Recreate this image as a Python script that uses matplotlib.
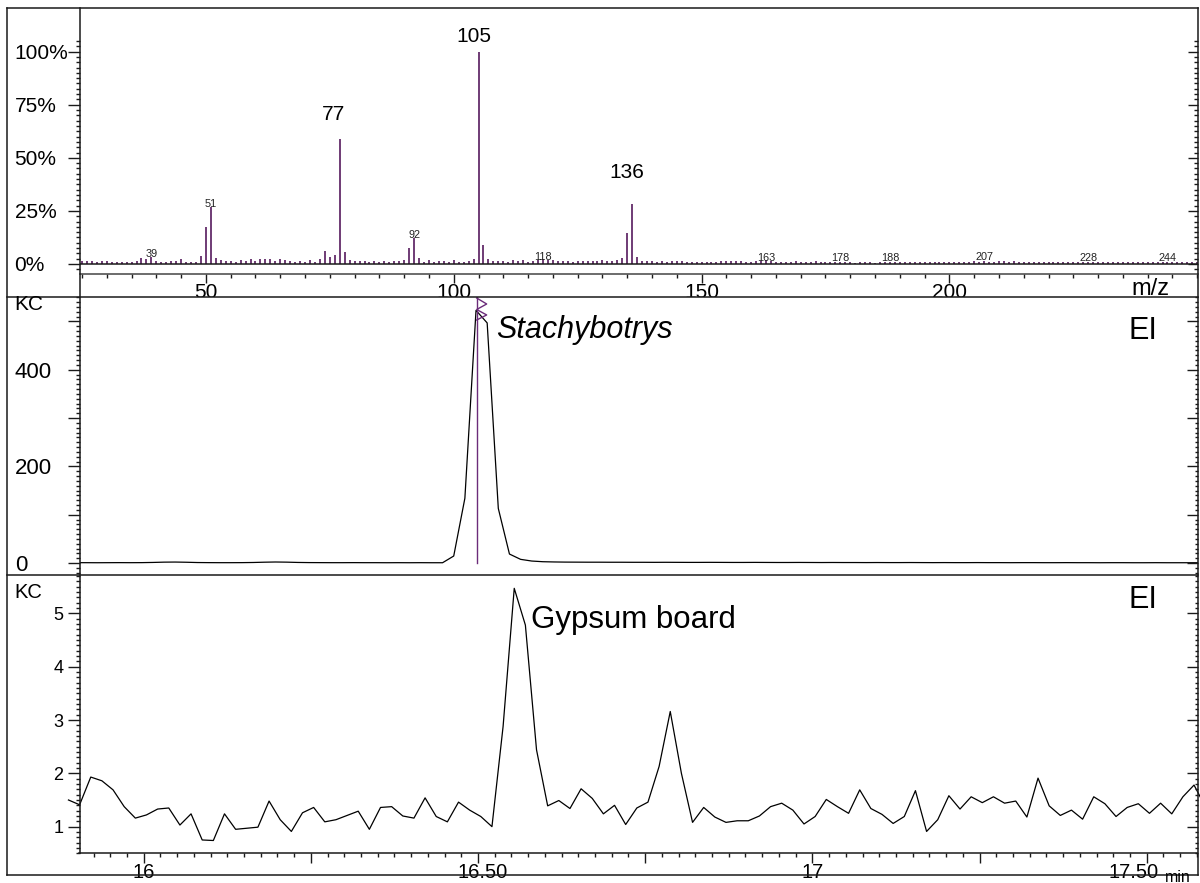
import matplotlib
matplotlib.use('Agg')
import matplotlib.pyplot as plt
import matplotlib.transforms as mtransforms
import numpy as np
from matplotlib.lines import Line2D
from matplotlib.ticker import MultipleLocator, FixedLocator, FixedFormatter

plt.rcParams['font.family'] = ['Liberation Sans', 'DejaVu Sans']

# ---- mass spectrum (relative abundance %, one value per m/z from 25 to 250)
mz_first = 25
abundance = [
    1.6, 1.6, 1.6, 1.1, 1.6, 1.6, 0.9, 0.9, 1.1, 0.9,   # 25-34
    0.9, 1.3, 2.7, 2.2, 3.3, 1.3, 0.9, 1.1, 1.4, 1.4,   # 35-44
    2.2, 1.1, 1.1, 0.9, 3.6, 17.4, 27.0, 2.8, 1.7, 1.4, # 45-54
    1.4, 0.9, 1.7, 1.3, 2.2, 1.3, 2.2, 2.2, 2.2, 1.6,   # 55-64
    2.4, 1.7, 1.4, 0.9, 1.4, 1.1, 1.7, 0.9, 2.4, 6.0,   # 65-74
    3.3, 4.1, 58.7, 5.5, 2.0, 1.3, 1.3, 1.4, 0.9, 1.3,  # 75-84
    1.1, 1.3, 1.1, 1.4, 1.3, 1.7, 7.5, 12.4, 2.7, 1.1,  # 85-94
    1.7, 0.9, 1.3, 1.4, 1.1, 1.7, 1.1, 1.1, 1.3, 2.4,   # 95-104
    100.0, 9.0, 2.4, 1.4, 1.3, 1.3, 0.9, 1.7, 1.4, 1.7, # 105-114
    1.1, 1.4, 1.7, 2.2, 1.7, 1.7, 1.4, 1.4, 1.4, 0.9,   # 115-124
    1.3, 1.6, 1.3, 1.3, 1.4, 1.7, 1.4, 1.6, 1.7, 2.8,   # 125-134
    14.6, 28.1, 3.3, 1.4, 1.3, 1.3, 0.9, 1.3, 1.1, 1.4, # 135-144
    1.3, 1.3, 1.1, 0.9, 1.1, 0.9, 1.1, 1.1, 1.1, 1.3,   # 145-154
    1.3, 1.3, 1.6, 1.3, 1.1, 0.9, 1.3, 1.6, 1.7, 1.3,   # 155-164
    1.1, 0.9, 1.1, 1.1, 1.3, 1.1, 1.1, 0.9, 1.3, 0.9,   # 165-174
    1.1, 0.9, 0.8, 1.1, 0.9, 0.8, 0.7, 0.8, 0.9, 0.8,   # 175-184
    0.7, 0.8, 0.9, 1.1, 0.9, 0.8, 0.9, 0.8, 0.9, 0.8,   # 185-194
    0.9, 0.8, 0.9, 0.8, 0.9, 0.8, 0.9, 0.8, 0.9, 0.8,   # 195-204
    1.3, 0.9, 1.2, 1.1, 1.0, 1.2, 1.4, 1.1, 1.3, 1.0,   # 205-214
    0.9, 0.8, 0.9, 0.8, 0.9, 0.8, 0.9, 0.8, 0.9, 0.8,   # 215-224
    0.9, 0.8, 1.0, 1.1, 0.9, 0.8, 0.9, 0.8, 0.9, 0.8,   # 225-234
    0.9, 0.8, 0.9, 1.0, 0.9, 1.0, 0.8, 0.9, 0.8, 1.0,   # 235-244
    0.9, 0.8, 0.9, 0.8, 0.9, 0.8,                       # 245-250
]
mz = np.arange(mz_first, mz_first + len(abundance))

big_labels = ['105', '77', '136']
big_label_pos = [(104.0, 107.0), (75.7, 70.6), (134.9, 43.3)]
small_labels = ['39', '51', '92', '118', '163', '178', '188', '207', '228', '244']
small_label_y = [4.6, 28.1, 13.5, 3.2, 2.7, 2.7, 2.7, 3.2, 2.7, 2.7]

# ---- chromatograms (KC), one scan per second
scan_min = 1.0 / 60.0

stachy_start = 15.897
stachy_kc = [
    0.7, 0.7, 0.6, 0.7, 0.8, 0.7, 0.8, 1.2, 1.8, 2.0, 1.6, 1.0, 0.8, 0.7, 0.7,
    0.8, 1.1, 1.7, 2.1, 1.8, 1.2, 0.9, 0.8, 0.7, 0.7, 0.8, 0.7, 0.7, 0.6, 0.7,
    0.6, 0.7, 0.6,
    0.6, 14.5, 134.0, 523.0, 497.0, 113.0, 18.6, 7.6, 4.1, 2.7, 2.2, 1.9,
    1.8, 1.7, 1.7, 1.6, 1.6, 1.5, 1.5, 1.4, 1.5, 1.4, 1.3, 1.3, 1.4, 1.3, 1.2,
    1.2, 1.3, 1.2, 1.1, 1.1, 1.2, 1.1, 1.0, 1.1, 1.0, 1.0, 0.9, 1.0, 0.9, 0.9,
    1.0, 0.9, 0.8, 0.9, 0.8, 0.8, 0.9, 0.8, 0.8, 0.7, 0.8, 0.8, 0.7, 0.7, 0.8,
    0.7, 0.7, 0.6, 0.7, 0.7, 0.6, 0.6, 0.7, 0.6, 0.6, 0.6, 0.6,
]
stachy_apex = 16.498

gypsum_start = 15.8875
gypsum_kc = [
    1.5, 1.41, 1.93, 1.86, 1.69, 1.375, 1.16, 1.22, 1.33, 1.35, 1.03,
    1.24, 0.75, 0.74, 1.24, 0.95, 0.97, 0.99, 1.48, 1.13, 0.91,
    1.26, 1.36, 1.09, 1.13, 1.21, 1.29, 0.95, 1.36, 1.375, 1.2,
    1.16, 1.54, 1.19, 1.09, 1.46, 1.31, 1.19, 1.0, 2.88, 5.47,
    4.78, 2.44, 1.39, 1.49, 1.34, 1.71, 1.53, 1.24, 1.40, 1.04,
    1.35, 1.46, 2.13, 3.16, 2.0, 1.08, 1.36, 1.18, 1.08, 1.11,
    1.11, 1.2, 1.375, 1.44, 1.31, 1.05, 1.19, 1.51, 1.375, 1.25,
    1.69, 1.34, 1.23, 1.06, 1.19, 1.675, 0.91, 1.13, 1.58, 1.33,
    1.56, 1.45, 1.56, 1.44, 1.48, 1.18, 1.91, 1.39, 1.21, 1.31,
    1.14, 1.56, 1.43, 1.19, 1.36, 1.43, 1.25, 1.44, 1.24, 1.56,
    1.78, 1.38,
]

W, H = 1200, 883
fig = plt.figure(figsize=(W / 100, H / 100), dpi=100)


def px_axes(x0, y_top, x1, y_bot):
    return fig.add_axes([x0 / W, 1 - y_bot / H, (x1 - x0) / W, (y_bot - y_top) / H])


def px_line(xs, ys, lw=1.1, color='#1a1a1a'):
    fig.add_artist(Line2D([x / W for x in xs], [1 - y / H for y in ys],
                          transform=fig.transFigure, color=color, lw=lw))


def shift_label(lbl, dx_px):
    off = mtransforms.ScaledTranslation(dx_px / 100, 0, fig.dpi_scale_trans)
    lbl.set_transform(lbl.get_transform() + off)


LEFT, RIGHT = 79.5, 1197.5
ink = '#1a1a1a'
purple = '#561a5e'

# ================= top: mass spectrum
ax1 = px_axes(LEFT, 8.3, RIGHT, 274.3)
ax1.vlines(mz, 0, abundance, color=purple, lw=1.2)
ax1.axhline(0, color=ink, lw=1.1)
ax1.set_xlim(24.5, 250.06)
ax1.set_ylim(-4.85, 120.4)
for s in ['top', 'left', 'right']:
    ax1.spines[s].set_visible(False)
ax1.spines['bottom'].set_color('#444444')
ax1.spines['bottom'].set_linewidth(1.1)
ax1.xaxis.set_major_locator(FixedLocator([50, 100, 150, 200]))
ax1.xaxis.set_minor_locator(MultipleLocator(5))
ax1.tick_params(axis='x', which='major', length=6.5, width=1, pad=0, labelsize=15, color=ink)
ax1.tick_params(axis='x', which='minor', length=2.9, width=1, color=ink)
ax1.yaxis.set_major_locator(FixedLocator([0, 25, 50, 75, 100]))
ax1.yaxis.set_major_formatter(FixedFormatter(['0%', '25%', '50%', '75%', '100%']))
ax1.yaxis.set_minor_locator(FixedLocator(np.arange(-2.5, 106, 2.5)))
ax1.tick_params(axis='y', which='major', length=8.6, width=1, pad=38.2, labelsize=15, color=ink)
ax1.tick_params(axis='y', which='minor', length=2.9, width=1, color=ink)
plt.setp(ax1.get_yticklabels(), ha='left')
ax1r = ax1.twinx()
ax1r.set_ylim(ax1.get_ylim())
ax1r.yaxis.set_major_locator(FixedLocator([0, 25, 50, 75, 100]))
ax1r.yaxis.set_minor_locator(FixedLocator(np.arange(-2.5, 106, 2.5)))
ax1r.tick_params(axis='y', which='major', direction='in', length=7.2, width=1, labelright=False, color=ink)
ax1r.tick_params(axis='y', which='minor', direction='in', length=2.9, width=1, color=ink)
for s in ax1r.spines.values():
    s.set_visible(False)

for txt, (x, y) in zip(big_labels, big_label_pos):
    ax1.text(x, y, txt, ha='center', va='center', fontsize=15)
for txt, y in zip(small_labels, small_label_y):
    ax1.text(float(txt), y, txt, ha='center', va='center', fontsize=7.8, color='#222222')

# ================= middle: Stachybotrys chromatogram
ax2 = px_axes(LEFT, 296.7, RIGHT, 575)
t2 = stachy_start + np.arange(len(stachy_kc)) * scan_min
ax2.plot(t2, stachy_kc, color='black', lw=0.9)
ax2.set_xlim(15.904, 17.576)
ax2.set_ylim(-24.8, 551.3)
ax2.axvline(stachy_apex, ymin=(0 + 24.8) / 576.1, ymax=1, color='#6b2c7a', lw=1.0)
# clipping indicator above the apex
dx = 10 / 669.3
ys = [548.6, 536.2, 524.8, 513.5, 503.1]
ax2.plot([stachy_apex, stachy_apex + dx, stachy_apex, stachy_apex + dx, stachy_apex], ys,
         color='#6b2c7a', lw=1.0)
for s in ax2.spines.values():
    s.set_visible(False)
ax2.tick_params(axis='x', which='both', bottom=False, labelbottom=False)
ax2.yaxis.set_major_locator(FixedLocator([0, 100, 200, 300, 400, 500]))
ax2.yaxis.set_major_formatter(FixedFormatter(['0', '', '200', '', '400', '']))
ax2.yaxis.set_minor_locator(MultipleLocator(10))
ax2.tick_params(axis='y', which='major', length=8.6, width=1, pad=37.9, labelsize=16, color=ink)
ax2.tick_params(axis='y', which='minor', length=2.9, width=1, color=ink)
plt.setp(ax2.get_yticklabels(), ha='left')
ax2r = ax2.twinx()
ax2r.set_ylim(ax2.get_ylim())
ax2r.yaxis.set_major_locator(FixedLocator([0, 100, 200, 300, 400, 500]))
ax2r.yaxis.set_minor_locator(MultipleLocator(10))
ax2r.tick_params(axis='y', which='major', direction='in', length=7.9, width=1, labelright=False, color=ink)
ax2r.tick_params(axis='y', which='minor', direction='in', length=2.2, width=1, color=ink)
for s in ax2r.spines.values():
    s.set_visible(False)
ax2.text(16.527, 482, 'Stachybotrys', fontsize=22, style='italic', ha='left', va='center')
ax2.text(0.9513, 0.8785, 'EI', fontsize=22, ha='center', va='center', transform=ax2.transAxes)

# ================= bottom: gypsum board chromatogram
ax3 = px_axes(LEFT, 575, RIGHT, 853.3)
t3 = gypsum_start + np.arange(len(gypsum_kc)) * scan_min
ax3.plot(t3, gypsum_kc, color='black', lw=0.9, clip_on=False)
ax3.set_xlim(15.904, 17.576)
ax3.set_ylim(0.5, 5.72)
for s in ['top', 'left', 'right']:
    ax3.spines[s].set_visible(False)
ax3.spines['bottom'].set_color(ink)
ax3.spines['bottom'].set_linewidth(1.1)
ax3.xaxis.set_major_locator(FixedLocator([16, 16.25, 16.5, 16.75, 17, 17.25, 17.5]))
ax3.xaxis.set_major_formatter(FixedFormatter(['16', '', '16.50', '', '17', '', '17.50']))
ax3.xaxis.set_minor_locator(MultipleLocator(0.025))
ax3.tick_params(axis='x', which='major', length=7.2, width=1, pad=0, labelsize=14.5, color=ink)
ax3.tick_params(axis='x', which='minor', length=2.9, width=1, color=ink)
xlabels = ax3.get_xticklabels()
shift_label(xlabels[2], 5)
shift_label(xlabels[6], -13)
ax3.yaxis.set_major_locator(FixedLocator([1, 2, 3, 4, 5]))
ax3.yaxis.set_minor_locator(MultipleLocator(0.1))
ax3.tick_params(axis='y', which='major', length=9.0, width=1, pad=2.5, labelsize=13, color=ink)
ax3.tick_params(axis='y', which='minor', length=2.9, width=1, color=ink)
ax3r = ax3.twinx()
ax3r.set_ylim(ax3.get_ylim())
ax3r.yaxis.set_major_locator(FixedLocator([1, 2, 3, 4, 5]))
ax3r.yaxis.set_minor_locator(MultipleLocator(0.1))
ax3r.tick_params(axis='y', which='major', direction='in', length=7.9, width=1, labelright=False, color=ink)
ax3r.tick_params(axis='y', which='minor', direction='in', length=2.2, width=1, color=ink)
for s in ax3r.spines.values():
    s.set_visible(False)
ax3.text(16.579, 4.88, 'Gypsum board', fontsize=22.5, ha='left', va='center')
ax3.text(0.9513, 0.910, 'EI', fontsize=22, ha='center', va='center', transform=ax3.transAxes)

# ================= frame, separators and axis captions
px_line([7, 1198], [8.3, 8.3])
px_line([7, 7], [8.3, 875])
px_line([7, 1198], [875, 875])
px_line([7, 1198], [296.7, 296.7])
px_line([7, 1198], [575, 575])
px_line([LEFT, LEFT], [8.3, 853.3])
px_line([RIGHT, RIGHT], [8.3, 875])

fig.text(14 / W, 1 - 304 / H, 'KC', fontsize=15, ha='left', va='center')
fig.text(14 / W, 1 - 593 / H, 'KC', fontsize=14.5, ha='left', va='center')
fig.text(1150 / W, 1 - 289 / H, 'm/z', fontsize=17, ha='center', va='center')
fig.text(1178 / W, 1 - 877 / H, 'min', fontsize=11.5, ha='center', va='center')

fig.savefig('out.png', dpi=100)
